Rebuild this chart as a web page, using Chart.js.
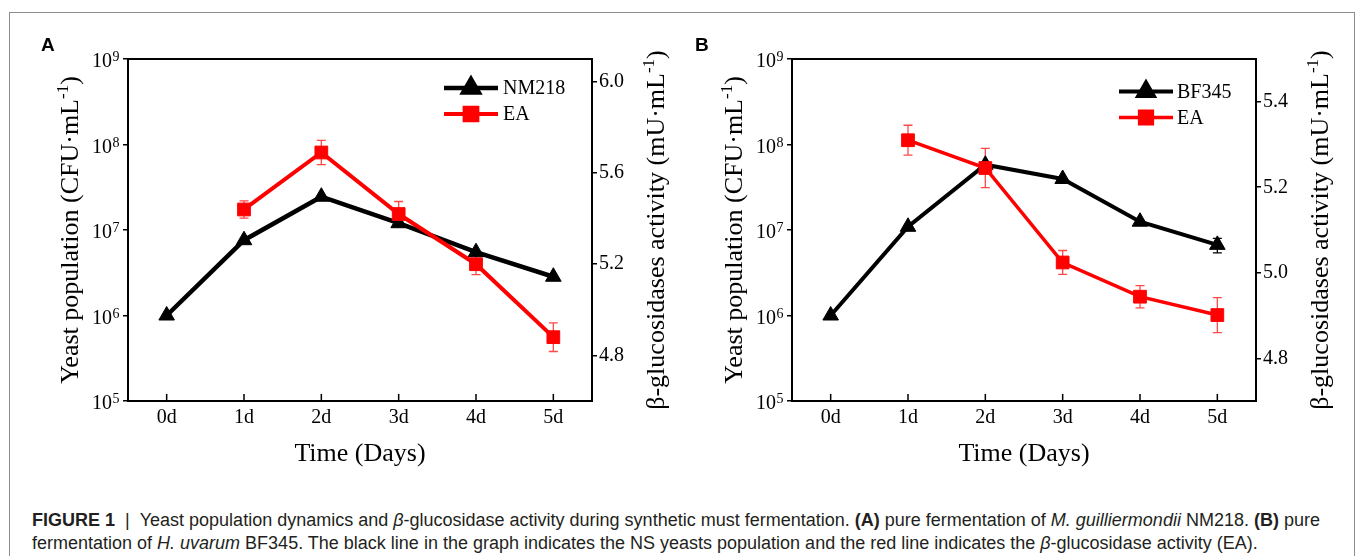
<!DOCTYPE html>
<html><head><meta charset="utf-8">
<script src="https://cdn.jsdelivr.net/npm/chart.js@4.4.0/dist/chart.umd.min.js"></script>
<style>
html,body{margin:0;padding:0;background:#fff;width:1355px;height:556px;overflow:hidden;position:relative}
canvas{position:absolute;top:0}
#ca{left:0}
#cb{left:664px}
.fl{position:absolute;background:#8c8c8c}
#cap{position:absolute;left:32px;top:509px;font-family:"Liberation Sans",Arial,sans-serif;font-size:18px;line-height:23px;color:#231f20;white-space:nowrap}
</style></head><body>
<div class="fl" style="left:9px;top:12px;width:1346px;height:1px"></div>
<div class="fl" style="left:9px;top:12px;width:1px;height:544px"></div>
<div class="fl" style="left:1354px;top:12px;width:1px;height:544px"></div>
<canvas id="ca" width="690" height="470"></canvas>
<canvas id="cb" width="691" height="470"></canvas>
<div id="cap"><b>FIGURE 1</b>&nbsp;&nbsp;|&nbsp;&nbsp;Yeast population dynamics and <i>β</i>-glucosidase activity during synthetic must fermentation. <b>(A)</b> pure fermentation of <i>M. guilliermondii</i> NM218. <b>(B)</b> pure<br>fermentation of <i>H. uvarum</i> BF345. The black line in the graph indicates the NS yeasts population and the red line indicates the <i>β</i>-glucosidase activity (EA).</div>
<script>
// ---------- data ----------
const days = ['0d', '1d', '2d', '3d', '4d', '5d'];

const popTickValues = [1e5, 1e6, 1e7, 1e8, 1e9];
const popTickBase = '10';
const popTickExp = ['5', '6', '7', '8', '9'];

// Panel A
const popNM218 = [1.0e6, 7.6e6, 2.45e7, 1.2e7, 5.5e6, 2.84e6];
const popNM218Err = [0, 0, 0, 0, 0, 0];
const eaA = [null, 5.44, 5.69, 5.42, 5.20, 4.88];
const eaAErr = [0, 0.038, 0.053, 0.055, 0.046, 0.063];
const eaATicks = [4.8, 5.2, 5.6, 6.0];

// Panel B
const popBF345 = [1.0e6, 1.09e7, 5.8e7, 3.95e7, 1.25e7, 6.7e6];
const popBF345Err = [0, 0, 0, 0, 0, 1.3e6];
const eaB = [null, 5.31, 5.245, 5.024, 4.944, 4.901];
const eaBErr = [0, 0.035, 0.046, 0.028, 0.026, 0.041];
const eaBTicks = [4.8, 5.0, 5.2, 5.4];

// titles
const leftTitle = [['Yeast population (CFU·mL', 0], ['-1', 1], [')', 0]];
const rightTitle = [['β-glucosidases activity (mU·mL', 0], ['-1', 1], [')', 0]];

// ---------- drawing ----------
Chart.defaults.font.family = "'Liberation Serif','Times New Roman',serif";
Chart.defaults.color = '#000';

const SERIF = "'Liberation Serif','Times New Roman',serif";

function drawRich(ctx, cx, cy, segs, size, supSize, supRise) {
  ctx.save();
  ctx.translate(cx, cy);
  ctx.rotate(-Math.PI / 2);
  ctx.fillStyle = '#000';
  ctx.textBaseline = 'alphabetic';
  ctx.textAlign = 'left';
  let w = 0;
  const parts = segs.map(([t, sup]) => {
    ctx.font = (sup ? supSize : size) + 'px ' + SERIF;
    const m = ctx.measureText(t).width;
    w += m;
    return { t, sup, m };
  });
  let x = -w / 2;
  const base = size * 0.33;
  parts.forEach(p => {
    ctx.font = (p.sup ? supSize : size) + 'px ' + SERIF;
    ctx.fillText(p.t, x, base - (p.sup ? supRise : 0));
    x += p.m;
  });
  ctx.restore();
}

const panelPlugin = {
  id: 'panel',
  beforeDatasetsDraw(chart) {
    const ctx = chart.ctx;
    const xs = chart.scales.x;
    chart.data.datasets.forEach((ds, i) => {
      if (!ds.err) return;
      const ys = chart.scales[ds.yAxisID];
      ctx.save();
      ctx.strokeStyle = ds.errColor;
      ctx.lineWidth = 1.3;
      ds.data.forEach((v, j) => {
        const e = ds.err[j];
        if (v == null || !e) return;
        const x = xs.getPixelForValue(j);
        const y1 = ys.getPixelForValue(v + e);
        const y2 = ys.getPixelForValue(v - e);
        ctx.beginPath();
        ctx.moveTo(x, y1); ctx.lineTo(x, y2);
        ctx.moveTo(x - 4.5, y1); ctx.lineTo(x + 4.5, y1);
        ctx.moveTo(x - 4.5, y2); ctx.lineTo(x + 4.5, y2);
        ctx.stroke();
      });
      ctx.restore();
    });
  },
  afterDraw(chart, args, o) {
    const ctx = chart.ctx;
    const a = chart.chartArea;
    const xs = chart.scales.x;
    const ys = chart.scales.y;
    ctx.save();
    // box
    ctx.strokeStyle = '#000';
    ctx.lineWidth = 2;
    ctx.strokeRect(a.left, a.top, a.right - a.left, a.bottom - a.top);
    // inward x ticks
    ctx.lineWidth = 1.5;
    ctx.beginPath();
    xs.ticks.forEach((t, i) => {
      const x = xs.getPixelForTick(i);
      ctx.moveTo(x, a.bottom); ctx.lineTo(x, a.bottom - 7);
    });
    ctx.stroke();
    // left log tick labels with superscripts
    ctx.fillStyle = '#000';
    ctx.textBaseline = 'alphabetic';
    popTickValues.forEach((v, k) => {
      const y = ys.getPixelForValue(v);
      const xr = a.left - 16;
      ctx.font = '20px ' + SERIF;
      ctx.textAlign = 'right';
      ctx.fillText(popTickBase, xr, y + 8);
      ctx.font = '14px ' + SERIF;
      ctx.textAlign = 'left';
      ctx.fillText(popTickExp[k], xr + 0.5, y + 2);
    });
    // legend
    o.legend.forEach((it, k) => {
      const y = o.legendY + k * o.legendGap;
      ctx.strokeStyle = it.color;
      ctx.fillStyle = it.color;
      ctx.lineWidth = it.lw;
      ctx.beginPath();
      ctx.moveTo(o.legendX, y); ctx.lineTo(o.legendX + o.legendW, y);
      ctx.stroke();
      Chart.helpers.drawPoint(ctx, {pointStyle: it.style, radius: 9, rotation: 0, borderWidth: 1}, o.legendX + o.legendW / 2, y);
      ctx.fillStyle = '#000';
      ctx.font = '20px ' + SERIF;
      ctx.textAlign = 'left';
      ctx.textBaseline = 'middle';
      ctx.fillText(it.text, o.legendTextX, y + 1);
    });
    // axis titles
    const cy = (a.top + a.bottom) / 2;
    drawRich(ctx, o.ltX, cy, leftTitle, 26, 17, 10);
    drawRich(ctx, o.rtX, cy, rightTitle, 26, 17, 10);
    // panel letter
    ctx.fillStyle = '#000';
    ctx.font = "bold 19px 'Liberation Sans',Arial,sans-serif";
    ctx.textAlign = 'left';
    ctx.textBaseline = 'alphabetic';
    ctx.fillText(o.letter, o.letterX, 51);
    ctx.restore();
  }
};

function makeChart(id, cfg) {
  return new Chart(document.getElementById(id), {
    type: 'line',
    data: {
      labels: days,
      datasets: [
        {
          label: 'EA', data: cfg.ea, err: cfg.eaErr, errColor: 'rgba(255,40,40,0.85)',
          yAxisID: 'y1', borderColor: '#ff0000', backgroundColor: '#ff0000',
          borderWidth: cfg.redLW, pointStyle: 'rect', pointRadius: 9, pointHoverRadius: 9,
          pointBorderWidth: 1, tension: 0, order: 0
        },
        {
          label: cfg.strain, data: cfg.pop, err: cfg.popErr, errColor: '#000',
          yAxisID: 'y', borderColor: '#000', backgroundColor: '#000',
          borderWidth: cfg.blackLW, pointStyle: 'triangle', pointRadius: 9, pointHoverRadius: 9,
          pointBorderWidth: 1, tension: 0, order: 1
        }
      ]
    },
    options: {
      responsive: false,
      animation: false,
      events: [],
      layout: { padding: { top: 59, left: 0, right: 0, bottom: 0 } },
      plugins: {
        legend: { display: false },
        tooltip: { enabled: false },
        panel: {
          letter: cfg.letter, letterX: cfg.letterX,
          legendX: cfg.legendX, legendY: cfg.legendY, legendGap: 26, legendW: 54, legendTextX: cfg.legendTextX,
          legend: [
            { text: cfg.strain, color: '#000', style: 'triangle', lw: cfg.blackLW },
            { text: 'EA', color: '#ff0000', style: 'rect', lw: cfg.redLW }
          ],
          ltX: 69,
          rtX: 655
        }
      },
      scales: {
        x: {
          type: 'category',
          offset: true,
          afterFit: s => { s.height = 69; },
          grid: { display: false, drawTicks: false },
          border: { display: false },
          ticks: { font: { size: 20, family: SERIF }, color: '#000', padding: 5, maxRotation: 0 },
          title: { display: true, text: 'Time (Days)', font: { size: 26, family: SERIF }, color: '#000', padding: { top: 0, bottom: 0 } }
        },
        y: {
          type: 'logarithmic',
          position: 'left',
          min: 1e5, max: 1e9,
          afterFit: s => { s.width = 128; },
          afterBuildTicks: s => { s.ticks = popTickValues.map(v => ({ value: v })); },
          grid: { display: true, drawOnChartArea: false, drawTicks: true, tickLength: 5, color: '#000', lineWidth: 1.5 },
          border: { display: false },
          ticks: { display: false }
        },
        y1: {
          type: 'linear',
          position: 'right',
          min: cfg.rMin, max: cfg.rMax,
          afterFit: s => { s.width = cfg.rightW; },
          afterBuildTicks: s => { s.ticks = cfg.rTicks.map(v => ({ value: v })); },
          grid: { display: true, drawOnChartArea: false, drawTicks: true, tickLength: 5, color: '#000', lineWidth: 1.5 },
          border: { display: false },
          ticks: { font: { size: 20, family: SERIF }, color: '#000', padding: 2, callback: v => Number(v).toFixed(1) }
        }
      }
    },
    plugins: [panelPlugin]
  });
}

makeChart('ca', {
  letter: 'A', letterX: 41, strain: 'NM218',
  pop: popNM218, popErr: popNM218Err, ea: eaA, eaErr: eaAErr,
  rMin: 4.6, rMax: 6.1, rTicks: eaATicks, rightW: 98,
  legendX: 444, legendY: 88, legendTextX: 503,
  blackLW: 4.5, redLW: 4
});
makeChart('cb', {
  letter: 'B', letterX: 31, strain: 'BF345',
  pop: popBF345, popErr: popBF345Err, ea: eaB, eaErr: eaBErr,
  rMin: 4.7, rMax: 5.5, rTicks: eaBTicks, rightW: 99,
  legendX: 455, legendY: 91.5, legendTextX: 513,
  blackLW: 4, redLW: 3.5
});
</script>
</body></html>
